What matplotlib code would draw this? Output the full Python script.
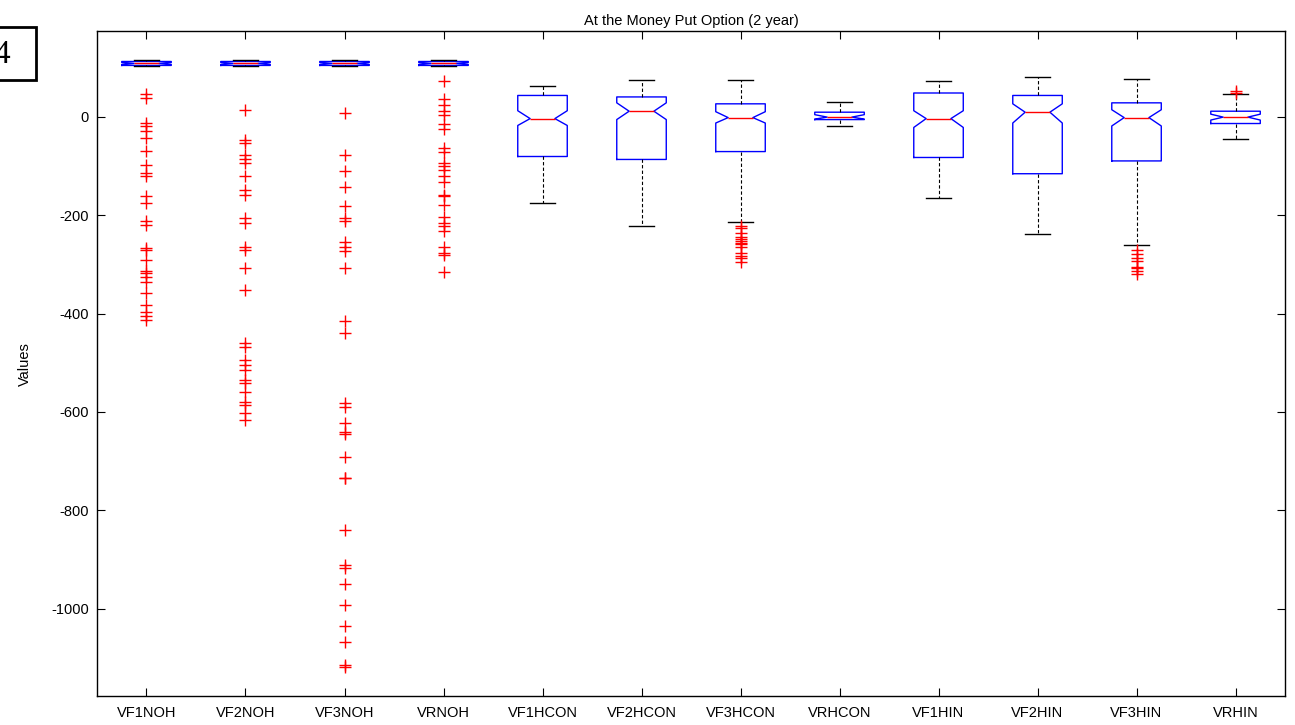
import matplotlib.pyplot as plt
from matplotlib.patches import Rectangle

plt.rcParams['font.family'] = ['Liberation Sans', 'DejaVu Sans']

# Box summary values
labels = ['VF1NOH', 'VF2NOH', 'VF3NOH', 'VRNOH', 'VF1HCON', 'VF2HCON',
          'VF3HCON', 'VRHCON', 'VF1HIN', 'VF2HIN', 'VF3HIN', 'VRHIN']
medians = [108, 108, 108, 108, -4, 11, -2, -1, -4, 9, -2, -1]
q1 = [104, 104, 104, 104, -81, -87, -71, -6, -83, -116, -90, -14]
q3 = [112, 112, 112, 112, 43, 40, 26, 9, 48, 43, 28, 11]
ci_lo = [106, 106, 106, 106, -18, -6, -13, -5, -22, -13, -19, -7]
ci_hi = [110, 110, 110, 110, 12, 28, 10, 4, 12, 26, 14, 5]
whis_lo = [103, 103, 103, 103, -176, -222, -215, -19, -165, -239, -261, -46]
whis_hi = [115, 115, 115, 115, 63, 75, 75, 30, 73, 80, 77, 46]

# Outliers
fliers = [
    [46, 38, -12, -20, -30, -43, -69, -98, -115, -120, -162, -176, -213, -220,
     -267, -271, -292, -313, -318, -325, -335, -359, -383, -396, -406, -413],
    [14, -47, -54, -77, -87, -94, -120, -149, -159, -206, -216, -264, -271,
     -308, -352, -460, -467, -494, -505, -515, -535, -542, -559, -579, -586,
     -603, -616],
    [7, -77, -111, -143, -182, -206, -213, -254, -264, -274, -308, -416, -440,
     -582, -589, -623, -640, -644, -691, -734, -735, -840, -911, -916, -949,
     -993, -1034, -1068, -1115, -1118],
    [72, 35, 24, 11, 4, -16, -26, -64, -71, -94, -101, -108, -121, -132, -159,
     -162, -179, -203, -216, -223, -233, -264, -277, -281, -315],
    [],
    [],
    [-222, -227, -236, -244, -249, -253, -256, -259, -264, -277, -283, -288,
     -295],
    [],
    [],
    [],
    [-271, -279, -288, -293, -305, -308, -314, -320],
    [53, 48],
]

stats = []
for i in range(len(labels)):
    stats.append({
        'med': medians[i], 'q1': q1[i], 'q3': q3[i],
        'cilo': ci_lo[i], 'cihi': ci_hi[i],
        'whislo': whis_lo[i], 'whishi': whis_hi[i],
        'fliers': fliers[i], 'label': labels[i],
    })

fig = plt.figure(figsize=(12.95, 7.25), dpi=100)
ax = fig.add_axes([0.0749, 0.04, 0.9174, 0.9166])

ax.bxp(stats, positions=range(1, len(labels) + 1), widths=0.5, capwidths=0.25,
       shownotches=True,
       boxprops=dict(color='blue', linewidth=1),
       medianprops=dict(color='red', linewidth=1),
       whiskerprops=dict(color='black', linewidth=0.8, linestyle=(0, (3, 2))),
       capprops=dict(color='black', linewidth=1),
       flierprops=dict(marker='+', markeredgecolor='red', markersize=9,
                       markeredgewidth=1, linestyle='none'))

ax.set_xlim(0.5, 12.5)
ax.set_ylim(-1177, 173)
ax.set_yticks([-1000, -800, -600, -400, -200, 0])
ax.set_yticklabels(['-1000', '-800', '-600', '-400', '-200', '0'])
ax.tick_params(direction='in', length=6, width=0.8, labelsize=10.5,
               top=True, right=True)
ax.tick_params(axis='x', pad=7)
ax.tick_params(axis='y', pad=6)
for s in ax.spines.values():
    s.set_linewidth(1)

ax.set_title('At the Money Put Option (2 year)', fontsize=10.5, pad=5)
ax.set_ylabel('Values', fontsize=10.5, labelpad=14)

# figure number box in the top-left corner
fig.patches.append(Rectangle((-0.02, 1 - 80 / 725), 0.0478, 53 / 725,
                             transform=fig.transFigure, fill=False,
                             edgecolor='black', linewidth=2))
fig.text(10 / 1295, 1 - 55 / 725, '4', ha='right', va='center', fontsize=24,
         family='Liberation Serif')

fig.savefig('out.png', dpi=100)
